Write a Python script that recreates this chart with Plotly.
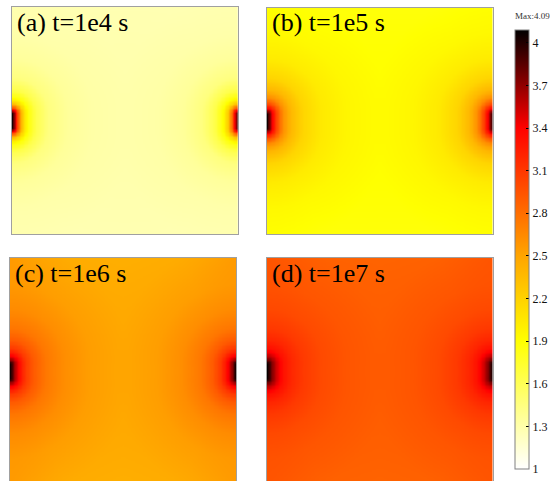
import numpy as np
import plotly.graph_objects as go

# ---------------- data ----------------
panel_labels = ["(a) t=1e4 s", "(b) t=1e5 s", "(c) t=1e6 s", "(d) t=1e7 s"]
background = [1.25, 1.82, 2.36, 2.80]          # far-field level of each panel
radius_px = [0, 2, 4, 7, 11, 16, 24, 36, 55, 80, 120, 200]   # distance from an edge source
excess_a = [2.84, 2.52, 2.08, 1.48, 0.94, 0.62, 0.38, 0.20, 0.10, 0.05, 0.02, 0.0]
excess_b = [2.27, 2.00, 1.75, 1.42, 1.10, 0.80, 0.55, 0.35, 0.20, 0.11, 0.04, 0.0]
excess_c = [1.73, 1.55, 1.35, 1.12, 0.90, 0.70, 0.52, 0.36, 0.23, 0.13, 0.05, 0.0]
excess_d = [1.29, 1.15, 1.00, 0.82, 0.65, 0.50, 0.38, 0.27, 0.17, 0.10, 0.04, 0.0]
excess_profiles = [excess_a, excess_b, excess_c, excess_d]
corner_boost = [0.0, 0.02, 0.12, 0.08]
z_min, z_max = 1.0, 4.09
cbar_tickvals = [1, 1.3, 1.6, 1.9, 2.2, 2.5, 2.8, 3.1, 3.4, 3.7, 4]
cbar_ticktext = ["1", "1.3", "1.6", "1.9", "2.2", "2.5", "2.8", "3.1", "3.4", "3.7", "4"]
max_label = "Max:4.09"

# ---------------- geometry / style ----------------
W, H = 555, 481
S = 226.0            # panel side (data units = px)
HALF_SEG = 7.0       # half length of each edge source
CORNER_L = 60.0
N = 170
SERIF = "Liberation Serif, Times New Roman, serif"

colorscale = [[0.0, "#FFFFFF"], [0.291, "#FFFF00"], [0.485, "#FFA500"],
              [0.777, "#FF0000"], [1.0, "#000000"]]

xs = np.linspace(0, S, N)
ys = np.linspace(0, S, N)
X, Y = np.meshgrid(xs, ys)
dy = np.maximum(np.abs(Y - S / 2) - HALF_SEG, 0)
d_left = np.sqrt(X ** 2 + dy ** 2)
d_right = np.sqrt((S - X) ** 2 + dy ** 2)
d_corner = np.min(np.stack([np.hypot(X - cx, Y - cy) for cx in (0, S) for cy in (0, S)]), axis=0)

# panel boxes in pixels: (left, right, top, bottom)
boxes = [(11.7, 238.0, 7.0, 234.0), (266.7, 492.7, 7.5, 234.0),
         (9.5, 236.3, 258.0, 484.0), (266.7, 492.7, 258.0, 484.0)]

fig = go.Figure()
for i in range(4):
    exc = np.array(excess_profiles[i])
    z = (background[i] + np.interp(d_left, radius_px, exc) + np.interp(d_right, radius_px, exc)
         + corner_boost[i] * np.exp(-d_corner / CORNER_L))
    z = np.clip(z, z_min, z_max).round(3)
    ax = "" if i == 0 else str(i + 1)
    fig.add_trace(go.Heatmap(x=xs, y=ys, z=z, coloraxis="coloraxis", zsmooth="best",
                             xaxis="x" + ax, yaxis="y" + ax, hoverinfo="skip"))
    l, r, t, b = boxes[i]
    bottom_px = min(b, H)
    ydom = [1 - bottom_px / H, 1 - t / H]
    yr0 = (b - bottom_px)
    clipped = b > H
    fig.layout["xaxis" + ax] = dict(domain=[l / W, r / W], range=[0, S], anchor="y" + ax,
                                    showgrid=False, zeroline=False, showticklabels=False, ticks="",
                                    showline=True, linecolor="#A0A0A0", linewidth=1,
                                    mirror=not clipped, side="top" if clipped else "bottom")
    fig.layout["yaxis" + ax] = dict(domain=ydom, range=[yr0, S], anchor="x" + ax,
                                    showgrid=False, zeroline=False, showticklabels=False, ticks="",
                                    showline=True, linecolor="#A0A0A0", linewidth=1, mirror=True)
    fig.add_annotation(text=panel_labels[i], xref="paper", yref="paper",
                       x=(l + 3) / W, y=1 - (t - 1) / H, xanchor="left", yanchor="top",
                       showarrow=False, font=dict(family=SERIF, size=26, color="black"))

fig.add_annotation(text=max_label, xref="paper", yref="paper", x=532 / W, y=1 - 16 / H,
                   xanchor="center", yanchor="middle", showarrow=False,
                   font=dict(family=SERIF, size=9, color="#333333"))

fig.update_layout(
    width=W, height=H, margin=dict(l=0, r=0, t=0, b=0),
    paper_bgcolor="white", plot_bgcolor="white", showlegend=False,
    coloraxis=dict(
        cmin=z_min, cmax=z_max, colorscale=colorscale,
        colorbar=dict(x=515 / W, xanchor="left", xpad=0, ypad=0,
                      y=1 - 249.5 / H, yanchor="middle",
                      len=439, lenmode="pixels", thickness=14, thicknessmode="pixels",
                      outlinecolor="#808080", outlinewidth=1,
                      ticks="inside", ticklen=3, tickcolor="black", tickwidth=1,
                      tickvals=cbar_tickvals, ticktext=cbar_ticktext,
                      tickfont=dict(family=SERIF, size=12, color="#111111")),
    ),
)

fig.write_html("out.html", config={"displayModeBar": False},
               post_script="document.body.style.margin='0px';document.body.style.overflow='hidden';")
